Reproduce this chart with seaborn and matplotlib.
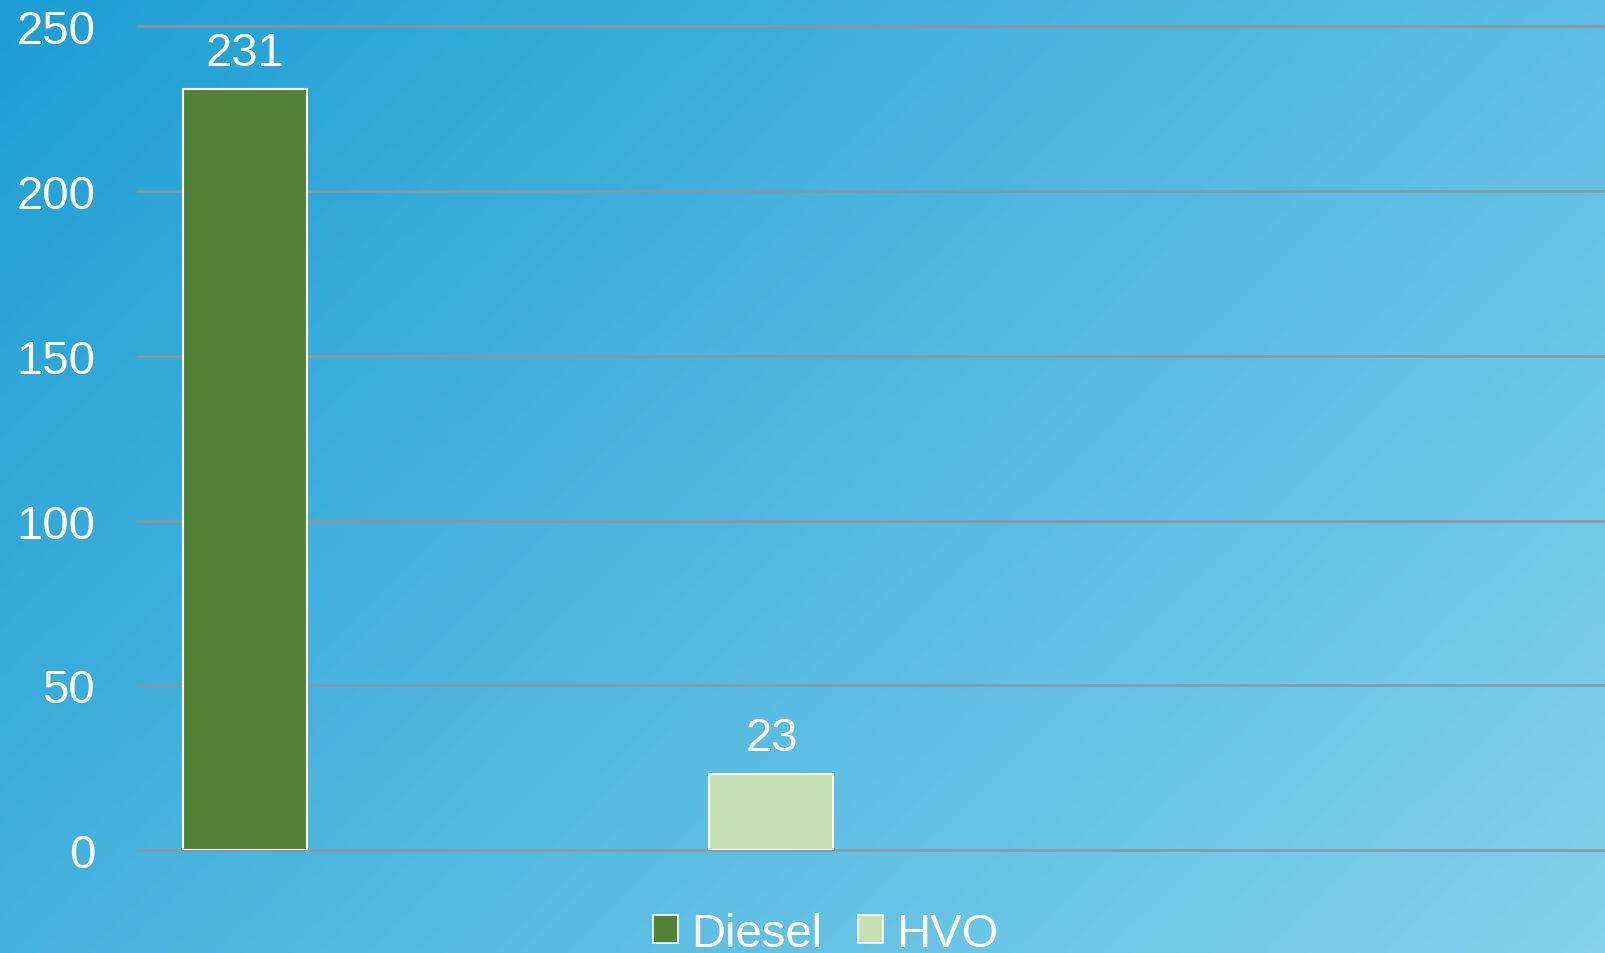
"""Diesel vs HVO bar chart on a blue gradient background."""

import numpy as np
import pandas as pd
import matplotlib
matplotlib.use("Agg")
import matplotlib.pyplot as plt
from matplotlib.patches import Patch
import seaborn as sns

fuels = ["Diesel", "HVO"]
values = [231, 23]
bar_colors = ["#538135", "#c5e0b4"]
y_ticks = [0, 50, 100, 150, 200, 250]

sns.set_theme(style="white")
plt.rcParams["font.family"] = ["Liberation Sans", "DejaVu Sans"]

fig = plt.figure(figsize=(16.06, 9.54), dpi=100)

# diagonal gradient background
bg = fig.add_axes([0, 0, 1, 1], zorder=-10)
h, w = 200, 336
yy, xx = np.mgrid[0:h, 0:w]
t = (xx / w * 0.62 + yy / h * 0.38)
c0 = np.array([30, 158, 212]) / 255
c1 = np.array([132, 210, 236]) / 255
img = c0[None, None, :] * (1 - t[..., None]) + c1[None, None, :] * t[..., None]
bg.imshow(img, aspect="auto", extent=[0, 1, 0, 1], origin="upper")
bg.axis("off")

ax = fig.add_axes([0.0853, 0.108, 0.9147, 0.8632])
ax.patch.set_alpha(0)

df = pd.DataFrame({"fuel": fuels, "value": values})
sns.barplot(data=df, x="fuel", y="value", hue="fuel", palette=bar_colors,
            saturation=1, width=0.2355, edgecolor="white", linewidth=1.5,
            legend=False, ax=ax, zorder=3)

for cont in ax.containers:
    ax.bar_label(cont, fmt="%d", padding=10, color="white", fontsize=34)

ax.set_ylim(0, 250)
ax.set_xlim(-0.205, 2.585)
ax.set_yticks(y_ticks)
ax.set_yticklabels([str(v) for v in y_ticks], color="white", fontsize=34)
ax.tick_params(axis="y", length=0, pad=30)
ax.set_xticks([])
ax.set_xlabel("")
ax.set_ylabel("")
for sp in ax.spines.values():
    sp.set_visible(False)
ax.yaxis.grid(True, color="#8a96a0", linewidth=1.8, zorder=0)
ax.set_axisbelow(True)
for gl in ax.get_ygridlines():
    gl.set_clip_on(False)

handles = [Patch(facecolor=c, edgecolor="white", linewidth=1.2) for c in bar_colors]
fig.legend(handles, fuels, loc="center", bbox_to_anchor=(0.514, 0.02),
           ncol=2, frameon=False, fontsize=34, labelcolor="white",
           handlelength=0.53, handleheight=0.53, handletextpad=0.28,
           columnspacing=0.75)

fig.savefig("out.png", dpi=100)
plt.close(fig)
